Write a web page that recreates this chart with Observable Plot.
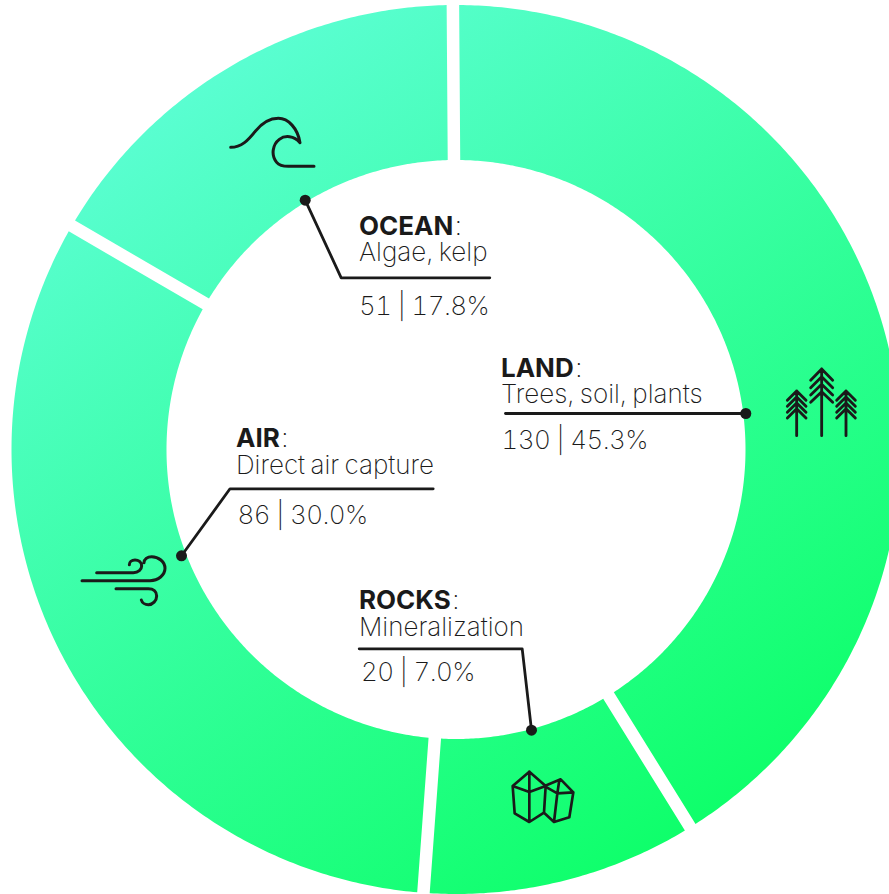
<!DOCTYPE html>
<html>
<head>
<meta charset="utf-8">
<script src="https://cdn.jsdelivr.net/npm/d3@7"></script>
<script src="https://cdn.jsdelivr.net/npm/@observablehq/plot@0.6"></script>
<style>
html,body{margin:0;padding:0;background:#fff;overflow:hidden}
svg{display:block}
</style>
</head>
<body>
<div id="chart"></div>
<script>
// Data
const categories = ["LAND", "ROCKS", "AIR", "OCEAN"];
const details = ["Trees, soil, plants", "Mineralization", "Direct air capture", "Algae, kelp"];
const values = [130, 20, 86, 51];
const shares = ["45.3%", "7.0%", "30.0%", "17.8%"];
// Angular width of each drawn sector, degrees clockwise from the top (as drawn, not proportional to the labels)
const sweeps = [148.6, 36, 116, 59.4];
const firstAngle = -0.4;

// Layout
const W = 889, H = 894, cx = 455.5, cy = 449, R0 = 289.5, R1 = 444.5, gap = 12.5;
const INK = "#1a1a1a";
const FONT = "Inter, 'Noto Sans', sans-serif";
const labelX =   {LAND: 500.5, ROCKS: 358.5, AIR: 235.5, OCEAN: 358.5};
const headY =    {LAND: 376, ROCKS: 608, AIR: 446.5, OCEAN: 234};
const detailY =  {LAND: 402.5, ROCKS: 635.5, AIR: 473.5, OCEAN: 260.5};
const numX =     {LAND: 501, ROCKS: 360.5, AIR: 237, OCEAN: 358.5};
const numY =     {LAND: 448, ROCKS: 680, AIR: 523, OCEAN: 314};
const leaders = {
  LAND:  [[505, 413], [745.3, 413]],
  ROCKS: [[358.7, 648.3], [521.7, 648.3], [531, 729.7]],
  AIR:   [[432.7, 488.3], [229.5, 488.3], [181, 555.3]],
  OCEAN: [[489.3, 277.3], [340.7, 277.3], [304.7, 199.7]]
};

// Ring sectors as outlines with parallel-sided gaps
const rad = Math.PI / 180;
let start = firstAngle;
const sectorPts = [];
categories.forEach((c, k) => {
  const a0 = start, a1 = start + sweeps[k];
  start = a1;
  const arc = (r, rev) => {
    const off = Math.asin(gap / 2 / r) / rad;
    const from = a0 + off, to = a1 - off;
    const n = Math.ceil((to - from) * 2);
    const ps = d3.range(n + 1).map(i => from + (to - from) * i / n);
    return (rev ? ps.reverse() : ps).map(a => ({
      c, x: cx + r * Math.sin(a * rad), y: cy - r * Math.cos(a * rad)
    }));
  };
  sectorPts.push(...arc(R1, false), ...arc(R0, true));
});

const leaderPts = categories.flatMap(c => leaders[c].map(([x, y]) => ({c, x, y})));
const dots = categories.map(c => {
  const p = leaders[c][leaders[c].length - 1];
  return {x: p[0], y: p[1]};
});

const rows = categories.map((c, i) => ({
  c, detail: details[i], num: `${values[i]} | ${shares[i]}`
}));

// Icons (line pictograms), path strings in 3x local units
const icons = [
  {tx: 220, ty: 105, w: 9, d: "M32 127C65 127 85 105 105 80C125 55 145 40 175 40C205 40 233 70 240 113C222 92 195 90 178 103C158 118 152 150 170 172C178 182 190 184 205 184L282 184"},
  {tx: 770, ty: 355, w: 8.5, d: "M155 42V242M122 76L155 42L188 76M122 98L155 65L188 98M122 120L155 88L188 120M122 142L155 110L188 142M80 108V242M52 136L80 108L108 136M52 154L80 126L108 154M52 172L80 144L108 172M52 189L80 161L108 189M228 108V242M200 136L228 108L256 136M200 154L228 126L256 154M200 172L228 144L256 172M200 189L228 161L256 189"},
  {tx: 500, ty: 760, w: 8, d: "M88 35L38 78L44 160L88 186L132 158L137 78ZM38 78L88 96L137 78M88 35V186M134 78L182 58L220 97L208 172L162 186L132 158M140 82L172 100L220 97M178 60L172 100L162 186"},
  {tx: 70, ty: 540, w: 9, d: "M36 122L240 122C265 122 285 105 285 85C285 65 265 50 245 50C232 50 222 58 222 68M80 98L190 98C205 98 215 88 215 78C215 66 205 60 195 60C185 60 178 66 178 74M138 146L235 146C250 146 260 155 260 168C260 182 248 194 235 194C225 194 216 188 214 180"}
];

const gradientDef = () => {
  const g = d3.create("svg:g");
  const defs = g.append("defs").append("linearGradient")
    .attr("id", "ring").attr("gradientUnits", "userSpaceOnUse")
    .attr("x1", 160).attr("y1", 50).attr("x2", 680).attr("y2", 830);
  defs.append("stop").attr("offset", 0).attr("stop-color", "#5efed7");
  defs.append("stop").attr("offset", 1).attr("stop-color", "#0fff6b");
  return g.node();
};
const iconPaths = () => {
  const g = d3.create("svg:g").attr("fill", "none").attr("stroke", INK)
    .attr("stroke-linecap", "round").attr("stroke-linejoin", "round");
  icons.forEach(ic => g.append("path").attr("d", ic.d)
    .attr("transform", `translate(${ic.tx},${ic.ty}) scale(${1 / 3})`)
    .attr("stroke-width", ic.w));
  return g.node();
};

const boldName = (index, scales, vals, dims, ctx, next) => {
  const g = next(index, scales, vals, dims, ctx);
  d3.select(g).selectAll("text").each(function () {
    const t = this.textContent;
    this.textContent = "";
    d3.select(this).append("tspan").attr("font-weight", 700).text(t);
    d3.select(this).append("tspan").attr("font-weight", 250).attr("dx", 1.5).text(":");
  });
  return g;
};
const spaced = (letter, word) => (index, scales, vals, dims, ctx, next) => {
  const g = next(index, scales, vals, dims, ctx);
  g.style.letterSpacing = `${letter}px`;
  g.style.wordSpacing = `${word}px`;
  return g;
};

const textOpts = {textAnchor: "start", lineAnchor: "bottom", fill: INK, fontFamily: FONT};

const plot = Plot.plot({
  width: W, height: H,
  margin: 0,
  x: {domain: [0, W], range: [0, W], axis: null},
  y: {domain: [0, H], range: [0, H], axis: null},
  style: {background: "#fff", fontFamily: FONT},
  marks: [
    gradientDef,
    Plot.line(sectorPts, {x: "x", y: "y", z: "c", fill: "url(#ring)", stroke: "none"}),
    iconPaths,
    Plot.line(leaderPts, {x: "x", y: "y", z: "c", stroke: INK, strokeWidth: 2.8, curve: "linear"}),
    Plot.dot(dots, {x: "x", y: "y", r: 5.5, fill: INK, stroke: "none"}),
    Plot.text(rows, {...textOpts, x: d => labelX[d.c], y: d => headY[d.c], text: "c", render: boldName, fontSize: 26}),
    Plot.text(rows, {...textOpts, x: d => labelX[d.c], y: d => detailY[d.c], text: "detail", fontSize: 26, fontWeight: 250, render: spaced(0, -2)}),
    Plot.text(rows, {...textOpts, x: d => numX[d.c], y: d => numY[d.c], text: "num", fontSize: 26, fontWeight: 250, fontVariant: "tabular-nums", render: spaced(-0.55, 0)})
  ]
});
document.getElementById("chart").appendChild(plot);
</script>
</body>
</html>
